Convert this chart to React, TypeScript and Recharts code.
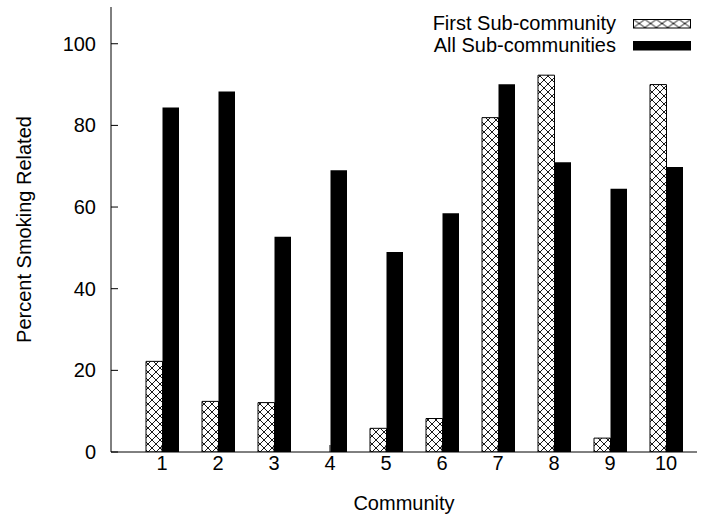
import React from "react";
import { BarChart, Bar, XAxis, YAxis, Legend } from "recharts";

const communities = ["1", "2", "3", "4", "5", "6", "7", "8", "9", "10"];
const firstSub = [22.2, 12.4, 12.1, 0, 5.8, 8.2, 81.9, 92.3, 3.4, 90.0];
const allSub = [84.4, 88.3, 52.7, 69.0, 49.0, 58.5, 90.1, 71.0, 64.5, 69.8];
const yTicks = [0, 20, 40, 60, 80, 100];

const data = communities.map((c, i) => ({ community: c, first: firstSub[i], all: allSub[i] }));

const FONT = "'Liberation Sans', Arial, Helvetica, sans-serif";
const FS = 20;

const YLabel = (props: any) => {
  const vb = props.viewBox || {};
  const cx = (vb.x || 0) + 24;
  const cy = (vb.y || 0) + (vb.height || 0) / 2;
  return (
    <text
      x={cx}
      y={cy}
      transform={`rotate(-90, ${cx}, ${cy})`}
      textAnchor="middle"
      dominantBaseline="central"
      fontFamily={FONT}
      fontSize={FS}
      fill="#000"
    >
      Percent Smoking Related
    </text>
  );
};

const LegendContent = () => {
  const rows = [
    { label: "First Sub-community", fill: "url(#hatchLegend)" },
    { label: "All Sub-communities", fill: "#000" },
  ];
  return (
    <div style={{ fontFamily: FONT, fontSize: FS, color: "#000" }}>
      {rows.map((r) => (
        <div key={r.label} style={{ display: "flex", alignItems: "center", justifyContent: "flex-end", height: 21.5, lineHeight: "21.5px" }}>
          <span style={{ whiteSpace: "nowrap" }}>{r.label}</span>
          <svg width={58} height={10} style={{ marginLeft: 17, display: "block" }}>
            <defs>
              <pattern id="hatchLegend" patternUnits="userSpaceOnUse" width={11.4} height={8} x={0.5} y={0.5}>
                <rect width={11.4} height={8} fill="#fff" />
                <path d="M0,0 L11.4,8 M11.4,0 L0,8" stroke="#000" strokeWidth={0.9} />
              </pattern>
            </defs>
            <rect x={0.5} y={0.5} width={57} height={8.5} fill={r.fill} stroke="#000" strokeWidth={1} />
          </svg>
        </div>
      ))}
    </div>
  );
};

export default function App() {
  return (
    <div style={{ position: "absolute", left: 0, top: 0, background: "#fff" }}>
      <BarChart
        width={708}
        height={519}
        data={data}
        margin={{ top: 7, right: 11, left: 0, bottom: 0 }}
        barGap={0}
        barSize={16.5}
      >
        <defs>
          <pattern id="hatch" patternUnits="userSpaceOnUse" width={8} height={8}>
            <rect width={8} height={8} fill="#fff" />
            <path d="M0,0 L8,8 M8,0 L0,8" stroke="#000" strokeWidth={0.9} />
          </pattern>
        </defs>
        <XAxis
          dataKey="community"
          type="category"
          height={67}
          padding={{ left: 23, right: 3 }}
          tickSize={-7}
          tickMargin={11}
          axisLine={{ stroke: "#000", strokeWidth: 1 }}
          tickLine={{ stroke: "#000" }}
          tick={{ fill: "#000", fontSize: FS, fontFamily: FONT }}
          label={{ value: "Community", position: "insideBottom", offset: 9, fill: "#000", fontSize: FS, fontFamily: FONT }}
        />
        <XAxis
          xAxisId="top"
          dataKey="community"
          type="category"
          orientation="top"
          height={0}
          padding={{ left: 23, right: 3 }}
          tickSize={-7}
          axisLine={{ stroke: "#000", strokeWidth: 1 }}
          tickLine={{ stroke: "#000" }}
          tick={false}
        />
        <YAxis
          type="number"
          domain={[0, 109]}
          ticks={yTicks}
          allowDataOverflow
          width={111}
          tickSize={-7}
          tickMargin={22}
          axisLine={{ stroke: "#000", strokeWidth: 1 }}
          tickLine={{ stroke: "#000" }}
          tick={{ fill: "#000", fontSize: FS, fontFamily: FONT }}
          label={<YLabel />}
        />
        <YAxis
          yAxisId="right"
          orientation="right"
          type="number"
          domain={[0, 109]}
          ticks={yTicks}
          allowDataOverflow
          width={0}
          tickSize={-7}
          axisLine={{ stroke: "#000", strokeWidth: 1 }}
          tickLine={{ stroke: "#000" }}
          tick={false}
        />
        <Legend
          layout="horizontal"
          verticalAlign="middle"
          align="center"
          content={<LegendContent />}
          wrapperStyle={{ position: "absolute", top: 13.25, right: 17, left: "auto", width: "auto" }}
        />
        <Bar dataKey="first" name="First Sub-community" fill="url(#hatch)" stroke="#000" strokeWidth={1} isAnimationActive={false} />
        <Bar dataKey="all" name="All Sub-communities" fill="#000" isAnimationActive={false} />
      </BarChart>
    </div>
  );
}
